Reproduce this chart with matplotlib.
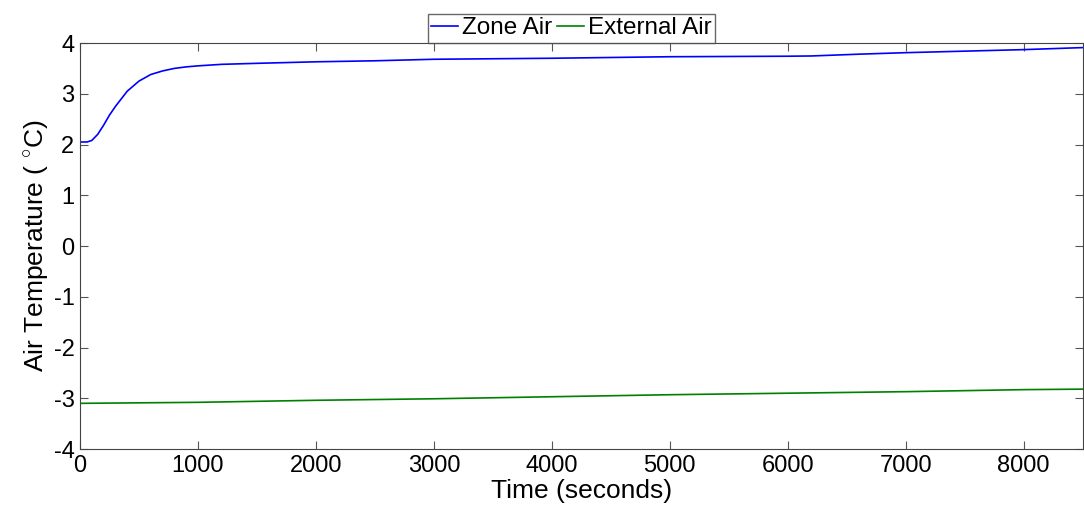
import numpy as np
import matplotlib
matplotlib.use('Agg')
import matplotlib.pyplot as plt

plt.rcParams['font.family'] = ['Liberation Sans', 'DejaVu Sans']
plt.rcParams['mathtext.fontset'] = 'custom'
plt.rcParams['mathtext.rm'] = 'Liberation Sans'
plt.rcParams['axes.unicode_minus'] = False

# Zone air temperature
zone_t = [0, 60, 100, 150, 200, 250, 300, 400, 500, 600, 700, 800, 900, 1000,
          1200, 1500, 2000, 2500, 3000, 4000, 5000, 6000, 6200, 6600, 7000, 8000, 8500]
zone_temp = [2.05, 2.05, 2.08, 2.2, 2.38, 2.58, 2.75, 3.05, 3.25, 3.38, 3.45, 3.5, 3.53, 3.55,
             3.58, 3.6, 3.63, 3.65, 3.68, 3.70, 3.73, 3.74, 3.745, 3.78, 3.81, 3.87, 3.91]

# External air temperature
ext_t = [0, 1000, 2000, 3000, 4000, 5000, 6000, 7000, 8000, 8500]
ext_temp = [-3.10, -3.08, -3.04, -3.01, -2.97, -2.93, -2.90, -2.87, -2.83, -2.82]

fig = plt.figure(figsize=(10.84, 5.11), dpi=100)
ax = fig.add_axes([0.0738, 0.1213, 0.925, 0.7945])

ax.plot(zone_t, zone_temp, color='#0000ff', lw=1.2, label='Zone Air')
ax.plot(ext_t, ext_temp, color='#008000', lw=1.2, label='External Air')

ax.set_xlim(0, 8500)
ax.set_ylim(-4, 4)
ax.set_xticks(np.arange(0, 8001, 1000))
ax.set_yticks(np.arange(-4, 5, 1))
ax.tick_params(direction='in', top=True, right=True, labelsize=17, length=6,
               color='#555555', pad=4)
for s in ax.spines.values():
    s.set_color('#444444')

ax.set_xlabel('Time (seconds)', fontsize=19, labelpad=2)
ax.set_ylabel(r'Air Temperature ( $^{\circ}$C)', fontsize=19, labelpad=2)

leg = ax.legend(loc='lower center', bbox_to_anchor=(0.49, 1.0), ncol=2,
                fontsize=17.5, frameon=True, fancybox=False, borderaxespad=0,
                handlelength=1.1, handletextpad=0.17, columnspacing=0.2,
                borderpad=0.15, edgecolor='#444444')
leg.get_frame().set_linewidth(1.0)

fig.savefig('out.png', dpi=100)
